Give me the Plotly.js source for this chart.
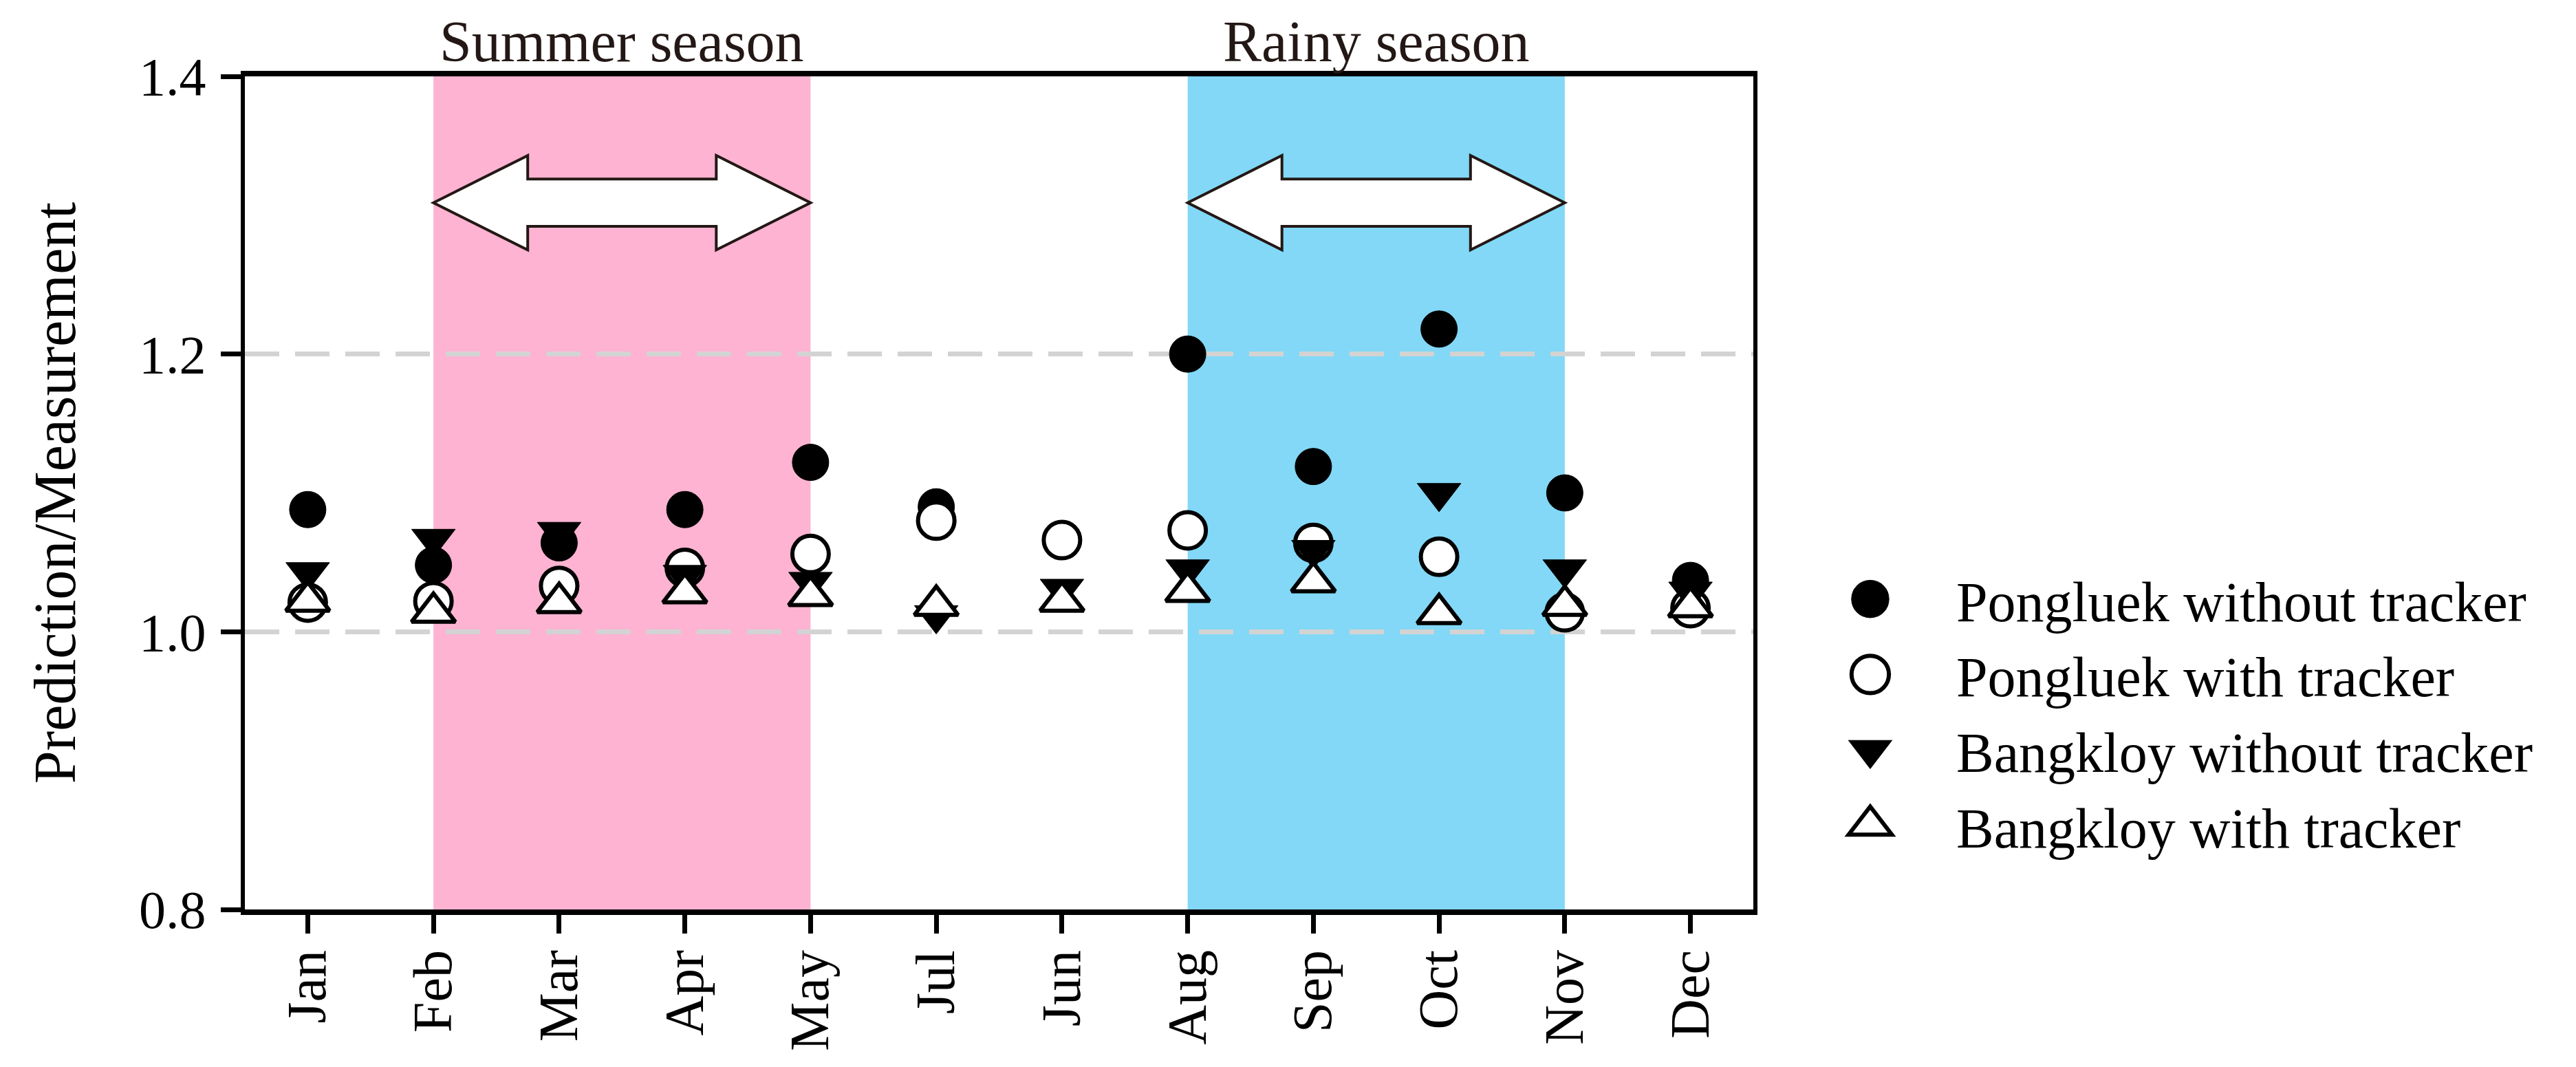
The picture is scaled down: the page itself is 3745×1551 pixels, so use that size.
<!DOCTYPE html>
<html>
<head>
<meta charset="utf-8">
<script src="https://cdn.plot.ly/plotly-3.0.1.min.js"></script>
<style>
html,body{margin:0;padding:0;background:#fff;}
#chart{width:3745px;height:1551px;}
</style>
</head>
<body>
<div id="chart"></div>
<script>
// ---- data ----
const months = ['Jan','Feb','Mar','Apr','May','Jul','Jun','Aug','Sep','Oct','Nov','Dec'];
const seriesNames = ['Pongluek without tracker','Pongluek with tracker','Bangkloy without tracker','Bangkloy with tracker'];
const pongluekWithout = [1.088, 1.048, 1.064, 1.088, 1.122, 1.090, 1.066, 1.200, 1.119, 1.218, 1.100, 1.037];
const pongluekWith    = [1.021, 1.022, 1.033, 1.046, 1.056, 1.080, 1.066, 1.073, 1.064, 1.054, 1.014, 1.017];
const bangkloyWithout = [1.043, 1.067, 1.072, 1.041, 1.036, 1.012, 1.031, 1.045, 1.059, 1.100, 1.045, 1.029];
const bangkloyWith    = [1.022, 1.014, 1.021, 1.028, 1.026, 1.019, 1.022, 1.029, 1.036, 1.013, 1.019, 1.018];
const yTicks = [0.8, 1.0, 1.2, 1.4];
const yTickText = ['0.8','1.0','1.2','1.4'];
const seasonLabels = ['Summer season','Rainy season'];
const seasonStart = ['Feb','Aug'];
const seasonEnd = ['May','Nov'];

// ---- styles ----
const FONT = 'Palatino Linotype, Book Antiqua, Palatino, Liberation Serif, serif';
const seasonColors = ['#fdb3d1','#82d8f6'];
const ink = '#231815';

const symbols = ['circle','circle','triangle-down','triangle-up'];
const fills = ['#000000','#ffffff','#000000','#ffffff'];
const sizes = [53, 53, 55, 55];
const lineW = [1, 6, 1, 6];
const values = [pongluekWithout, pongluekWith, bangkloyWithout, bangkloyWith];

const data = values.map((v, i) => ({
  type: 'scatter',
  mode: 'markers',
  name: seriesNames[i],
  x: months,
  y: v,
  legendgroup: 'g' + i,
  marker: {symbol: symbols[i], size: sizes[i], color: fills[i], line: {color: '#000', width: lineW[i]}},
  cliponaxis: false
}));

function arrowPath(x0, x1, yc) {
  const hl = 0.75, hh = 0.034, sh = 0.017;
  return `M${x0},${yc} L${x0+hl},${yc+hh} L${x0+hl},${yc+sh} L${x1-hl},${yc+sh} L${x1-hl},${yc+hh} L${x1},${yc} ` +
         `L${x1-hl},${yc-hh} L${x1-hl},${yc-sh} L${x0+hl},${yc-sh} L${x0+hl},${yc-hh} Z`;
}

const shapes = [];
const annotations = [];
seasonLabels.forEach((lab, i) => {
  const a = months.indexOf(seasonStart[i]);
  const b = months.indexOf(seasonEnd[i]);
  shapes.push({type: 'rect', xref: 'x', yref: 'paper', x0: a, x1: b, y0: 0, y1: 1,
    fillcolor: seasonColors[i], line: {width: 0}, layer: 'below'});
  shapes.push({type: 'path', xref: 'x', yref: 'y', path: arrowPath(a, b, 1.309),
    fillcolor: '#ffffff', line: {color: ink, width: 4}, layer: 'above'});
  annotations.push({xref: 'x', yref: 'paper', x: (a + b) / 2, y: 1.042, yanchor: 'middle', xanchor: 'center',
    text: lab, showarrow: false, font: {family: FONT, size: 84, color: ink}});
});

const layout = {
  width: 3745, height: 1551,
  margin: {l: 356, r: 1196, t: 111, b: 229, pad: 0},
  paper_bgcolor: '#ffffff', plot_bgcolor: '#ffffff',
  font: {family: FONT, color: '#000'},
  showlegend: true,
  legend: {x: 1.0205, xanchor: 'left', y: 0.422, yanchor: 'top', font: {family: FONT, size: 82, color: '#000'},
    bgcolor: 'rgba(0,0,0,0)', borderwidth: 0, itemwidth: 240, tracegroupgap: 15, traceorder: 'normal'},
  xaxis: {
    type: 'category', categoryorder: 'array', categoryarray: months, range: [-0.5, 11.5],
    showline: true, linewidth: 8, linecolor: '#000', mirror: true,
    ticks: 'outside', ticklen: 27, tickwidth: 7, tickcolor: '#000', tickangle: -90,
    tickfont: {family: FONT, size: 80, color: '#000'}, ticklabelstandoff: -8,
    showgrid: false, zeroline: false, fixedrange: true
  },
  yaxis: {
    range: [0.8, 1.4], tickvals: yTicks, ticktext: yTickText,
    showline: true, linewidth: 6, linecolor: '#000', mirror: true,
    ticks: 'outside', ticklen: 29, tickwidth: 7, tickcolor: '#000',
    tickfont: {family: FONT, size: 78, color: '#000'}, ticklabelstandoff: 6,
    showgrid: true, gridcolor: '#d3d3d3', gridwidth: 7, griddash: '50px,23px',
    zeroline: false, fixedrange: true,
    title: {text: 'Prediction/Measurement', font: {family: FONT, size: 86, color: '#000'}, standoff: 66}
  },
  shapes: shapes,
  annotations: annotations
};

Plotly.newPlot('chart', data, layout, {staticPlot: true, displayModeBar: false}).then(gd => {
  const k = 3.4;
  gd.querySelectorAll('.legend .legendpoints path.scatterpts').forEach((p, i) => {
    const t = p.getAttribute('transform') || '';
    p.setAttribute('transform', t + ' scale(' + k + ')');
    p.style.strokeWidth = (i % 2 === 1 ? 6 / k : 1 / k) + 'px';
  });
});
</script>
</body>
</html>
